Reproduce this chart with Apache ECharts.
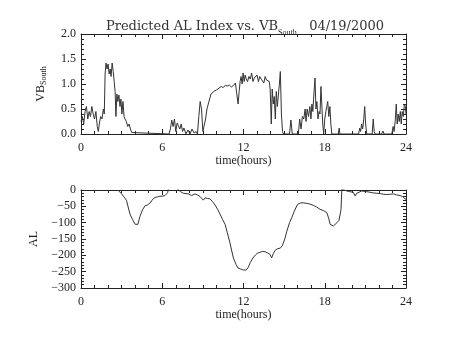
<!DOCTYPE html>
<html>
<head>
<meta charset="utf-8">
<script src="https://cdn.jsdelivr.net/npm/echarts@6/dist/echarts.min.js"></script>
<style>
  html, body { margin: 0; padding: 0; background: #fff; }
  #chart { width: 454px; height: 341px; }
</style>
</head>
<body>
<div id="chart"></div>
<script>
// Southward IMF-driven input, VB_South (hours, value)
const vbHours = [
  0.00,0.10,0.20,0.30,0.40,0.50,0.60,0.70,0.80,0.90,1.00,1.10,1.20,1.28,1.35,1.45,1.55,1.65,1.72,1.78,
  1.85,1.92,2.00,2.08,2.15,2.22,2.30,2.38,2.45,2.52,2.58,2.65,2.72,2.80,2.88,2.95,3.02,3.10,3.18,3.25,
  3.35,3.45,3.55,3.65,3.75,3.85,6.50,6.60,6.70,6.80,6.90,7.00,7.10,7.20,7.30,7.40,7.50,7.60,7.75,7.90,
  8.05,8.20,8.35,8.50,8.60,8.70,8.80,8.90,9.00,9.10,9.20,9.30,9.40,9.50,9.60,9.70,9.80,9.90,10.00,10.10,
  10.20,10.35,10.50,10.65,10.80,10.95,11.10,11.25,11.40,11.50,11.60,11.68,11.75,11.82,11.90,11.97,12.05,12.12,12.20,12.30,
  12.40,12.50,12.60,12.70,12.80,12.90,13.00,13.10,13.20,13.30,13.40,13.50,13.60,13.70,13.80,13.90,13.97,14.05,14.12,14.20,
  14.27,14.35,14.42,14.50,14.58,14.65,14.72,14.80,14.88,14.95,15.40,15.50,15.60,16.05,16.15,16.25,16.35,16.45,16.55,16.62,
  16.70,16.80,16.90,16.98,17.05,17.12,17.20,17.28,17.35,17.42,17.50,17.58,17.65,17.72,17.80,17.85,17.92,18.00,18.08,18.15,
  18.22,18.30,18.38,18.45,18.52,19.00,19.07,19.12,20.50,20.58,20.65,20.72,20.80,20.88,20.95,21.02,21.10,21.50,21.58,21.65,
  21.72,22.20,22.30,22.38,22.95,23.05,23.12,23.20,23.28,23.35,23.42,23.50,23.58,23.65,23.72,23.80,23.88,23.95,24.00
];
const vbValues = [
  0.25,0.35,0.20,0.45,0.55,0.30,0.45,0.35,0.55,0.40,0.30,0.45,0.15,0.05,0.20,0.35,0.30,0.50,0.40,1.20,
  1.42,1.30,1.40,1.20,1.30,1.15,1.42,1.25,1.05,0.85,0.35,0.80,0.65,0.78,0.55,0.70,0.40,0.65,0.35,0.30,
  0.25,0.15,0.20,0.10,0.03,0.00,0.00,0.10,0.28,0.15,0.30,0.05,0.22,0.25,0.10,0.20,0.05,0.12,0.00,0.08,
  0.00,0.10,0.02,0.05,0.00,0.35,0.65,0.50,0.05,0.05,0.30,0.50,0.60,0.70,0.80,0.78,0.85,0.82,0.88,0.90,
  0.92,0.95,0.93,0.97,0.96,0.98,0.94,0.97,1.02,0.98,0.60,0.85,1.05,1.15,1.00,1.22,1.05,1.18,1.10,1.05,
  1.15,1.10,1.22,1.05,1.12,1.08,1.18,1.05,1.15,1.10,1.12,1.02,1.15,1.08,1.12,1.05,0.90,0.20,0.90,0.60,
  0.75,0.30,0.85,0.55,0.80,1.00,1.25,0.40,0.05,0.00,0.00,0.28,0.00,0.00,0.30,0.10,0.35,0.30,0.50,0.25,
  0.50,0.35,0.55,0.30,0.60,0.45,0.80,1.12,0.50,0.65,0.30,0.45,0.40,0.95,0.50,0.20,0.00,0.30,0.45,0.55,
  0.65,0.35,0.55,0.20,0.00,0.00,0.12,0.00,0.00,0.12,0.05,0.20,0.10,0.30,0.55,0.20,0.00,0.00,0.30,0.05,
  0.00,0.00,0.06,0.00,0.00,0.15,0.05,0.25,0.60,0.20,0.40,0.25,0.45,0.20,0.45,0.35,0.60,0.55,0.40
];

// Predicted AL index (hours, nT)
const alHours = [
  2.72,2.85,3.00,3.13,3.25,3.37,3.50,3.62,3.80,4.00,4.10,4.20,4.36,4.55,4.73,4.90,5.10,5.30,5.47,5.65,
  5.83,6.00,6.20,6.33,6.40,6.45,6.80,7.19,7.35,7.56,7.75,7.93,8.05,8.17,8.30,8.42,8.60,8.79,8.92,9.03,
  9.16,9.35,9.53,9.70,9.90,10.10,10.27,10.45,10.64,10.80,11.00,11.25,11.45,11.60,11.80,12.00,12.10,12.20,12.36,12.50,
  12.70,12.90,13.05,13.20,13.40,13.60,13.80,13.96,14.08,14.20,14.33,14.50,14.70,14.85,14.94,15.05,15.20,15.40,15.56,15.75,
  15.93,16.05,16.20,16.40,16.67,16.90,17.16,17.40,17.65,17.90,18.15,18.28,18.40,18.52,18.64,18.78,18.90,19.05,19.13,19.20,
  19.26,19.40,19.63,19.85,20.10,20.20,20.24,20.30,20.36,20.50,20.73,20.90,21.10,21.35,21.60,21.85,22.10,22.35,22.58,22.80,
  23.07,23.30,23.56,23.75,23.93,24.00
];
const alValues = [
  0,-5,-12,-18,-25,-33,-55,-74,-90,-105,-110,-105,-80,-60,-48,-46,-40,-28,-23,-21,
  -19,-19,-17,-17,-8,5,20,0,-5,-10,-11,-12,-15,-17,-14,-12,-15,-20,-25,-31,
  -24,-26,-27,-35,-46,-60,-74,-90,-105,-130,-162,-208,-228,-239,-242,-245,-250,-245,-236,-222,
  -208,-198,-193,-191,-188,-189,-193,-197,-208,-195,-185,-180,-178,-172,-168,-150,-126,-100,-85,-65,
  -49,-42,-40,-39,-41,-43,-47,-52,-59,-63,-69,-85,-105,-110,-110,-105,-100,-93,-90,-60,
  3,-2,-3,-5,-7,-12,-18,-14,-10,-5,-3,-4,-5,-7,-9,-10,-11,-13,-14,-13,
  -12,-15,-17,-20,-27,-28
];

const timeTicks = ['0', '6', '12', '18', '24'];

const FONT = '"Liberation Serif", "DejaVu Serif", serif';
const TITLE_FONT = '"DejaVu Serif", "Liberation Serif", serif';
const INK = '#222';

function pairs(xs, ys) { return xs.map((x, i) => [x, ys[i]]); }

function xAxisPair(gridIndex) {
  const base = {
    gridIndex, type: 'value', min: 0, max: 24, interval: 6,
    axisLine: { show: true, onZero: false, lineStyle: { color: INK, width: 1 } },
    axisTick: { show: true, inside: true, length: 5, lineStyle: { color: INK } },
    minorTick: { show: true, splitNumber: 6, length: 3, lineStyle: { color: INK } },
    splitLine: { show: false }
  };
  return [
    Object.assign({}, base, {
      position: 'bottom',
      name: 'time(hours)', nameLocation: 'middle', nameGap: 21,
      nameTextStyle: { fontFamily: FONT, fontSize: 12, color: INK },
      axisLabel: { margin: 8, fontFamily: FONT, fontSize: 12, color: INK,
        formatter: v => timeTicks[Math.round(v / 6)] }
    }),
    Object.assign({}, base, { position: 'top', axisLabel: { show: false } })
  ];
}

function yAxisPair(gridIndex, min, max, interval, name, fmt) {
  const base = {
    gridIndex, type: 'value', min, max, interval,
    axisLine: { show: true, onZero: false, lineStyle: { color: INK, width: 1 } },
    axisTick: { show: true, inside: true, length: 5, lineStyle: { color: INK } },
    minorTick: { show: true, splitNumber: 5, length: 3, lineStyle: { color: INK } },
    splitLine: { show: false }
  };
  return [
    Object.assign({}, base, {
      position: 'left',
      name, nameLocation: 'middle', nameGap: 33, nameRotate: 90,
      nameTextStyle: { fontFamily: FONT, fontSize: 12, color: INK,
        rich: { sub: { fontFamily: FONT, fontSize: 8, color: INK, verticalAlign: 'bottom', padding: [6, 0, 0, 0] } } },
      axisLabel: { margin: 5, fontFamily: FONT, fontSize: 12, color: INK, formatter: fmt }
    }),
    Object.assign({}, base, { position: 'right', axisLabel: { show: false } })
  ];
}

const xs = xAxisPair(0).concat(xAxisPair(1));
const ys = yAxisPair(0, 0, 2, 0.5, 'VB{sub|South}', v => v.toFixed(1))
  .concat(yAxisPair(1, -300, 0, 50, 'AL', v => String(v).replace('-', '\u2212')));

const chart = echarts.init(document.getElementById('chart'), null, { renderer: 'canvas' });
chart.setOption({
  backgroundColor: '#fff',
  animation: false,
  title: {
    text: 'Predicted AL Index vs. VB{sub|South}   04/19/2000',
    left: 240, top: 12, textAlign: 'center',
    textStyle: {
      fontFamily: TITLE_FONT, fontSize: 13, fontWeight: 'normal', color: '#333',
      rich: { sub: { fontFamily: FONT, fontSize: 8, color: INK, padding: [12, 0, 0, 0] } }
    }
  },
  grid: [
    { left: 81, right: 48, top: 34, height: 100 },
    { left: 81, right: 48, top: 190, height: 98 }
  ],
  xAxis: xs,
  yAxis: ys,
  series: [
    { type: 'line', xAxisIndex: 0, yAxisIndex: 0, data: pairs(vbHours, vbValues),
      showSymbol: false, clip: true, lineStyle: { color: '#333', width: 1 } },
    { type: 'line', xAxisIndex: 2, yAxisIndex: 2, data: pairs(alHours, alValues),
      showSymbol: false, clip: true, lineStyle: { color: '#333', width: 1 } }
  ]
});
</script>
</body>
</html>
